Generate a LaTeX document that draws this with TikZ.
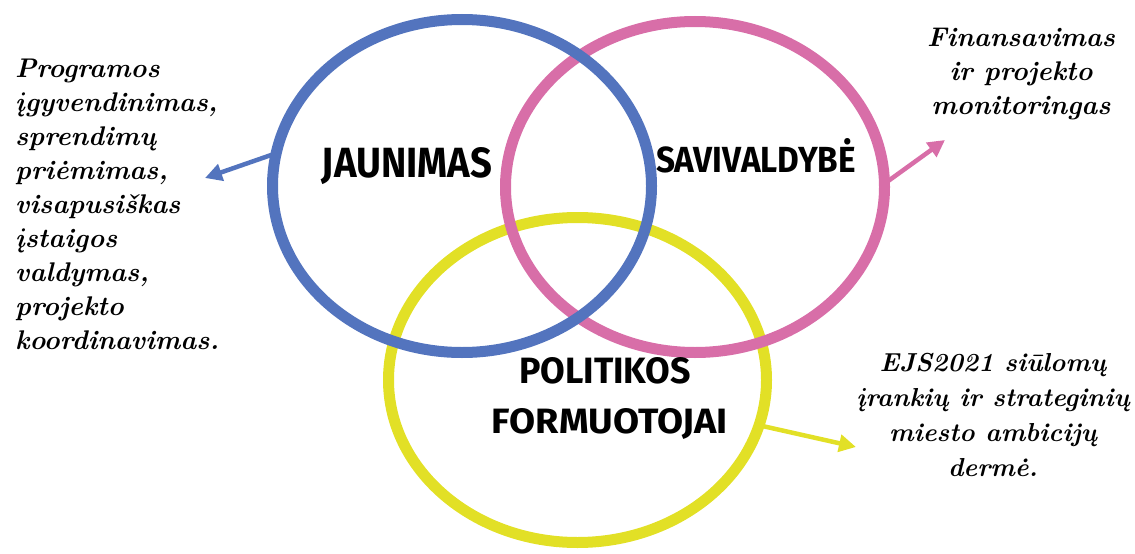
\documentclass[tikz,border=0pt]{standalone}
\usepackage{fontspec}
\usepackage{graphicx}
\usetikzlibrary{shapes.geometric,arrows.meta}
\newfontfamily\brushfont{Fira Sans}
\definecolor{cblue}{RGB}{83,116,190}
\definecolor{cpink}{RGB}{216,110,168}
\definecolor{cyellow}{RGB}{226,224,38}
\begin{document}
\begin{tikzpicture}[x=1pt,y=-1pt,
  ring/.style={ellipse, draw, line width=11pt, inner sep=0pt, outer sep=0pt},
  link/.style={line width=4.5pt, -{Triangle[length=17pt,width=17pt]}},
  note/.style={font=\fontsize{27}{34}\selectfont\bfseries\itshape, inner sep=0pt},
  brush/.style={inner sep=0pt}]
\useasboundingbox (0,0) rectangle (1135,554);
% rings
\node[ring, draw=cyellow, minimum width=378pt, minimum height=325pt] (yel) at (577.5,380) {};
\node[ring, draw=cpink, minimum width=379pt, minimum height=331pt] (pink) at (695,187) {};
\node[ring, draw=cblue, minimum width=379pt, minimum height=333pt] (blue) at (462,186) {};
% brush labels
\node[brush] (jau) at (407,166) {\resizebox{170pt}{30pt}{\brushfont\bfseries JAUNIMAS}};
\node[brush] (sav) at (756,156) {\resizebox{200pt}{34pt}{\brushfont\bfseries SAVIVALDYBĖ}};
\node[brush] (pol) at (605,371) {\resizebox{172pt}{26pt}{\brushfont\bfseries POLITIKOS}};
\node[brush] (form) at (610,424) {\resizebox{236pt}{25pt}{\brushfont\bfseries FORMUOTOJAI}};
% notes
\node[note, align=left, anchor=west] (ltext) at (15,204) {Programos\\ įgyvendinimas,\\ sprendimų\\ priėmimas,\\ visapusiškas\\ įstaigos\\ valdymas,\\ projekto\\ koordinavimas.};
\node[note, align=center] (rtop) at (1021,74) {Finansavimas\\ ir projekto\\ monitoringas};
\node[note, align=center, font=\fontsize{26}{35}\selectfont\bfseries\itshape] (rbot) at (993,415) {EJS2021 siūlomų\\ įrankių ir strateginių\\ miesto ambicijų\\ dermė.};
% connectors
\coordinate (bt) at (205,178);
\coordinate (pt) at (945,140);
\coordinate (yt) at (856,447);
\draw[link, cblue] (blue.170) -- (bt);
\draw[link, cpink] (pink.1) -- (pt);
\draw[link, cyellow] (yel.-14) -- (yt);
\end{tikzpicture}
\end{document}
